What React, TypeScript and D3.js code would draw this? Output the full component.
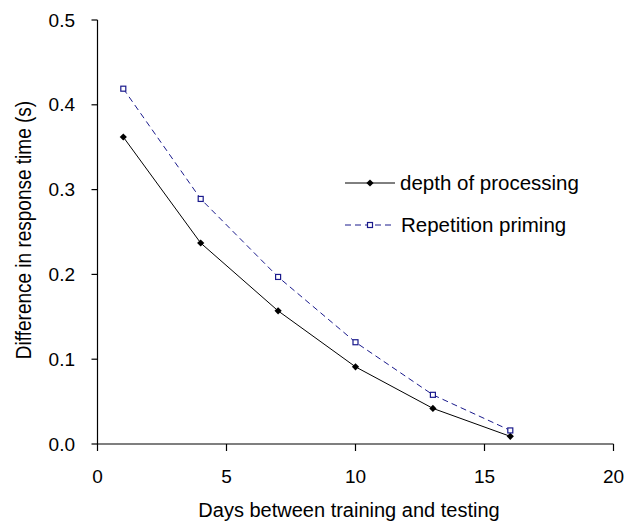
import React from "react";
import * as d3 from "d3";

const days = [1, 4, 7, 10, 13, 16];
const depthValues = [0.362, 0.237, 0.157, 0.091, 0.042, 0.009];
const repetitionValues = [0.419, 0.289, 0.197, 0.12, 0.058, 0.016];
const xTicks = [0, 5, 10, 15, 20];
const yTicks = [0, 0.1, 0.2, 0.3, 0.4, 0.5];
const seriesNames = ["depth of processing", "Repetition priming"];

const W = 636, H = 522;
const font = "'Liberation Sans', Arial, sans-serif";

export default function App() {
  const x = d3.scaleLinear().domain([0, 20]).range([97.5, 613.5]);
  const y = d3.scaleLinear().domain([0, 0.5]).range([444, 20]);
  const line = d3.line<number>().x((_, i) => x(days[i])).y((d) => y(d));
  const navy = "#1a1a8c";
  const diamond = (cx: number, cy: number, r = 3.6) =>
    `M${cx},${cy - r}L${cx + r},${cy}L${cx},${cy + r}L${cx - r},${cy}Z`;
  return (
    <svg width={W} height={H} style={{ position: "absolute", left: 0, top: 0 }}>
      <rect width={W} height={H} fill="#fff" />
      {/* axes */}
      <line x1={x(0)} x2={x(0)} y1={y(0.5)} y2={y(0)} stroke="#000" strokeWidth={1.2} />
      <line x1={x(0)} x2={x(20)} y1={y(0)} y2={y(0)} stroke="#000" strokeWidth={1.2} />
      {yTicks.map((t) => (
        <g key={"y" + t}>
          <line x1={x(0) - 6} x2={x(0)} y1={y(t)} y2={y(t)} stroke="#000" strokeWidth={1.2} />
          <text x={75} y={y(t)} dy="0.35em" textAnchor="end" fontFamily={font} fontSize={19}>
            {t.toFixed(1)}
          </text>
        </g>
      ))}
      {xTicks.map((t) => (
        <g key={"x" + t}>
          <line x1={x(t)} x2={x(t)} y1={y(0)} y2={y(0) + 7} stroke="#000" strokeWidth={1.2} />
          <text x={x(t)} y={483} textAnchor="middle" fontFamily={font} fontSize={19}>
            {t}
          </text>
        </g>
      ))}
      <text x={349} y={517} textAnchor="middle" fontFamily={font} fontSize={20}>
        Days between training and testing
      </text>
      <text
        transform={`translate(31,230) scale(1.15,1) rotate(-90)`}
        textAnchor="middle"
        fontFamily={font}
        fontSize={19}
      >
        Difference in response time (s)
      </text>
      {/* series */}
      <path d={line(repetitionValues) || ""} fill="none" stroke={navy} strokeWidth={1} strokeDasharray="6,4" />
      <path d={line(depthValues) || ""} fill="none" stroke="#000" strokeWidth={1} />
      {depthValues.map((v, i) => (
        <path key={"d" + i} d={diamond(x(days[i]), y(v))} fill="#000" />
      ))}
      {repetitionValues.map((v, i) => (
        <rect key={"r" + i} x={x(days[i]) - 2.5} y={y(v) - 2.5} width={5} height={5} fill="#fff" stroke={navy} strokeWidth={1.2} />
      ))}
      {/* legend */}
      <line x1={345} x2={395} y1={183} y2={183} stroke="#000" strokeWidth={1} />
      <path d={diamond(370, 183)} fill="#000" />
      <text x={400} y={183} dy="0.35em" fontFamily={font} fontSize={20.5}>
        {seriesNames[0]}
      </text>
      <line x1={345} x2={395} y1={225} y2={225} stroke={navy} strokeWidth={1} strokeDasharray="6,4" />
      <rect x={367.5} y={222.5} width={5} height={5} fill="#fff" stroke={navy} strokeWidth={1.2} />
      <text x={401} y={225} dy="0.35em" fontFamily={font} fontSize={20.5}>
        {seriesNames[1]}
      </text>
    </svg>
  );
}
